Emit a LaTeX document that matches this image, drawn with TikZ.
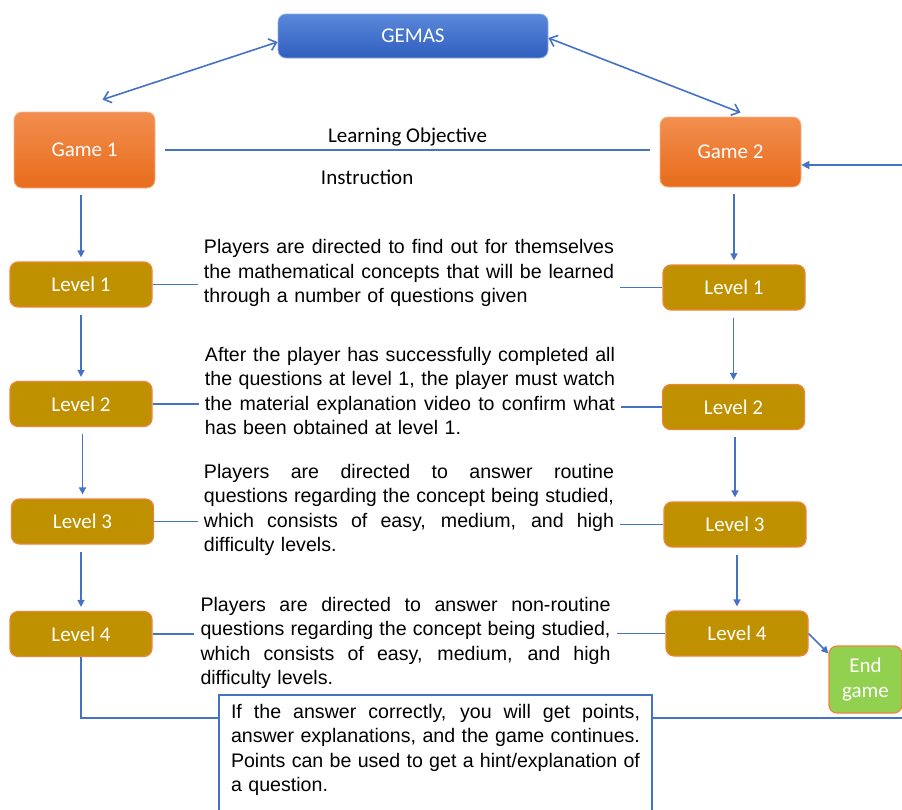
\documentclass[tikz,border=0pt]{standalone}
\usepackage{fontspec}
\setmainfont{Liberation Sans}
\newfontfamily\boxfont{Carlito}
\usepackage{color}
\usetikzlibrary{arrows.meta}
\definecolor{linkblue}{HTML}{4472C4}
\definecolor{gold}{HTML}{BF9000}
\definecolor{rim}{HTML}{F0843C}
\definecolor{orangetop}{HTML}{F28E4E}
\definecolor{orangebot}{HTML}{E86C1C}
\definecolor{bluetop}{HTML}{5A88DA}
\definecolor{bluebot}{HTML}{2F5EBE}
\definecolor{endgreen}{HTML}{92D050}
\newcommand{\jline}[2][205pt]{\makebox[#1][s]{\spaceskip=\fontdimen2\font plus 1em\relax #2}}

\begin{document}
\begin{tikzpicture}[x=0.5pt,y=-0.5pt,
  game/.style={draw=rim!60, rounded corners=4pt, top color=orangetop, bottom color=orangebot,
    text=white, font=\boxfont\fontsize{10.5}{12}\selectfont, minimum width=70.5pt},
  level/.style={draw=rim, line width=0.6pt, fill=gold, rounded corners=4pt, text=white,
    font=\boxfont\fontsize{10.5}{12.5}\selectfont, minimum width=71pt, minimum height=22.5pt},
  info/.style={text width=205pt, inner xsep=3pt, inner ysep=0pt, align=left,
    font=\fontsize{9.8}{12.25}\selectfont},
  lbl/.style={font=\boxfont\fontsize{10.5}{12}\selectfont},
  link/.style={draw=linkblue, line width=0.8pt},
  down/.style={link, -{Triangle[length=3.5pt,width=3.5pt]}, shorten <=3.5pt, shorten >=2pt},
  duo/.style={link, {Straight Barb[length=3.5pt,width=6pt]}-{Straight Barb[length=3.5pt,width=6pt]}}]
\useasboundingbox (0,0) rectangle (902,810);
\clip (0,0) rectangle (902,810);

\node[draw=bluetop!70!white, rounded corners=4pt, top color=bluetop, bottom color=bluebot,
  minimum width=135pt, minimum height=22pt, text=white,
  font=\boxfont\fontsize{10.5}{12}\selectfont] (gemas) at (413,36) {GEMAS};
\node[game, minimum height=38pt] (g1) at (84.5,150) {Game 1};
\node[game, minimum height=35pt] (g2) at (730.5,152) {Game 2};

\node[level] (l1) at (81,284.5) {Level 1};
\node[level] (l2) at (81,404) {Level 2};
\node[level] (l3) at (82.5,521.5) {Level 3};
\node[level] (l4) at (81,634) {Level 4};
\node[level] (r1) at (734,287.5) {Level 1};
\node[level] (r2) at (733.5,407) {Level 2};
\node[level] (r3) at (735,524.5) {Level 3};
\node[level] (r4) at (737,633.5) {Level 4};
\node[level, fill=endgreen, minimum width=36.5pt, minimum height=33.5pt, align=center] (eg) at (865.5,679.5) {End\\game};

\node[info] (t1) at (409,273) {\jline{Players are directed to find out for themselves}\\
  \jline{the mathematical concepts that will be learned}\\
  through a number of questions given};
\node[info] (t2) at (410,391) {\jline{After the player has successfully completed all}\\
  \jline{the questions at level 1, the player must watch}\\
  \jline{the material explanation video to confirm what}\\
  has been obtained at level 1.};
\node[info] (t3) at (409,510) {\jline{Players are directed to answer routine}\\
  \jline{questions regarding the concept being studied,}\\
  \jline{which consists of easy, medium, and high}\\
  difficulty levels.};
\node[info] (t4) at (405.5,643) {\jline{Players are directed to answer non-routine}\\
  \jline{questions regarding the concept being studied,}\\
  \jline{which consists of easy, medium, and high}\\
  difficulty levels.};
\node[draw=linkblue, line width=0.8pt, text width=204.5pt, inner xsep=6pt, inner ysep=4.5pt,
  align=left, anchor=north, font=\fontsize{9.8}{12.25}\selectfont] (note) at (435.5,694)
  {\jline[204.5pt]{If the answer correctly, you will get points,}\\
  \jline[204.5pt]{answer explanations, and the game continues.}\\
  \jline[204.5pt]{Points can be used to get a hint/explanation of}\\
  a question.\\ \mbox{}};

\draw[duo] ([yshift=-3pt]gemas.west) -- ([xshift=9pt,yshift=6pt]g1.north);
\draw[duo] ([yshift=-1pt]gemas.east) -- ([xshift=5pt,yshift=2pt]g2.north);
\draw[link, line width=1.2pt, shorten <=5pt, shorten >=5pt] (g1.east)
  -- node[lbl, above=-2pt] (obj) {Learning Objective}
     node[lbl, below=6pt, pos=0.42] (ins) {Instruction} (g1.east -| g2.west);
\coordinate (back) at (902,165);
\draw[link, -{Triangle[length=4pt,width=4pt]}] (back) -- (back -| g2.east);

\draw[down] (l1.north |- g1.south) -- (l1.north);
\draw[down] (l2.north |- l1.south) -- (l2.north);
\draw[down] (l3.north |- l2.south) -- (l3.north);
\draw[down] (l4.north |- l3.south) -- (l4.north);
\draw[down] (r1.north |- g2.south) -- (r1.north);
\draw[down] (r2.north |- r1.south) -- (r2.north);
\draw[down] (r3.north |- r2.south) -- (r3.north);
\draw[down] (r4.north |- r3.south) -- (r4.north);
\draw[link, -{Triangle[length=3.5pt,width=3.5pt]}] (r4.east) -- ([yshift=-4pt]eg.north west);

\draw[link] (l1.east) -- (l1.east -| t1.west);
\draw[link] (l2.east) -- (l2.east -| t2.west);
\draw[link] (l3.east) -- (l3.east -| t3.west);
\draw[link] (l4.east) -- (l4.east -| t4.west);
\draw[link] (t1.east |- r1.west) -- (r1.west);
\draw[link] (t2.east |- r2.west) -- (r2.west);
\draw[link] (t3.east |- r3.west) -- (r3.west);
\draw[link] (t4.east |- r4.west) -- (r4.west);

\coordinate (turn) at (80,718);
\coordinate (exit) at (902,718);
\draw[link] (l4.south) -- (l4.south |- turn) -- (note.west |- turn);
\draw[link] (note.east |- turn) -- (exit);
\end{tikzpicture}
\end{document}
